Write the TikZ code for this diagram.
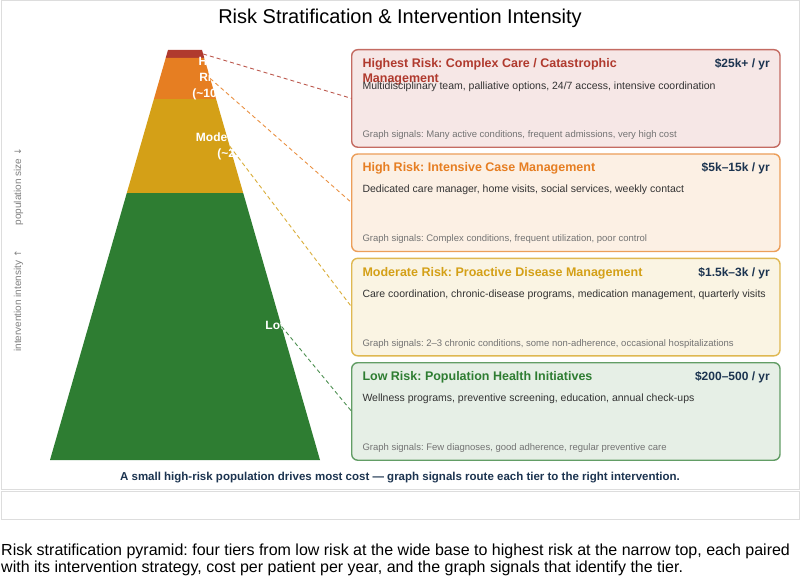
\documentclass[tikz,border=0pt]{standalone}
\usepackage{fontspec}
\setmainfont{Liberation Sans}
\newfontfamily\djv{DejaVu Sans}
\usetikzlibrary{calc}
\definecolor{tred}{HTML}{B03A2E}
\definecolor{torange}{HTML}{E67E22}
\definecolor{tgold}{HTML}{D4A017}
\definecolor{tgreen}{HTML}{2E7D32}
\definecolor{navy}{HTML}{1C3450}
\definecolor{framegray}{HTML}{DDDDDD}
\frenchspacing
\begin{document}
\begin{tikzpicture}[x=1pt,y=-1pt,
  card/.style={draw=#1!75!white, fill=#1!12!white, line width=1.4pt, rounded corners=6pt,
    minimum width=428.3pt, minimum height=97.5pt, inner sep=0pt, outer sep=0pt},
  conn/.style={draw=#1!85!white, dash pattern=on 4pt off 3pt, line width=0.9pt},
  cardtitle/.style={anchor=base west, inner sep=0pt, text=#1, font=\fontsize{12.5}{15}\selectfont\bfseries},
  price/.style={anchor=base east, inner sep=0pt, text=navy, font=\fontsize{12}{14}\selectfont\bfseries},
  desc/.style={anchor=base west, inner sep=0pt, text=black!80, font=\fontsize{10.5}{13}\selectfont},
  signal/.style={anchor=base west, inner sep=0pt, text=black!55, font=\fontsize{9.5}{11}\selectfont},
  plabel/.style={text=white, font=\fontsize{12}{16}\selectfont\bfseries, align=center, inner sep=0pt},
  bottomtext/.style={anchor=base west, inner sep=0pt, font=\fontsize{16}{17}\selectfont},
]
\fill[white] (0,0) rectangle (800,578);
\useasboundingbox (0,0) rectangle (800,578);

% panels
\draw[framegray, line width=1pt] (1,1) rectangle (799,489);
\draw[framegray, line width=1pt] (1,491) rectangle (799,519);

% title
\node[font=\fontsize{20}{22}\selectfont] (title) at (400,18) {Risk Stratification \& Intervention Intensity};

% pyramid bands
\fill[tred]    (168,50) -- (202,50) -- (204.3,58) -- (165.7,58) -- cycle;
\fill[torange] (165.7,58) -- (204.3,58) -- (216.1,99) -- (153.9,99) -- cycle;
\fill[tgold]   (153.9,99) -- (216.1,99) -- (243.2,193) -- (126.8,193) -- cycle;
\fill[tgreen]  (126.8,193) -- (243.2,193) -- (320,460) -- (50,460) -- cycle;

% pyramid labels (white, only visible inside the pyramid)
\begin{scope}
  \clip (168,50) -- (202,50) -- (320,460) -- (50,460) -- cycle;
  \node[plabel] (lhigh) at (212,78.5) {High\\Risk\\(\textasciitilde10\%)};
  \node[plabel] (lmod) at (237,146) {Moderate Risk\\(\textasciitilde20\%)};
  \node[plabel] (llow) at (313,326.5) {Low Risk (\textasciitilde70\%)};
\end{scope}

% axis label
\node[rotate=90, text=black!50, font=\fontsize{10}{12}\selectfont] (axis) at (18.5,250)
  {intervention intensity {\djv\fontsize{9}{12}\selectfont ↑}\hspace{25pt}population size {\djv\fontsize{9}{12}\selectfont ↓}};

% connector anchors on the pyramid edge
\coordinate (p1) at (203.2,54);
\coordinate (p2) at (210.2,78.5);
\coordinate (p3) at (229.6,146);
\coordinate (p4) at (281.6,326.5);

% cards
\node[card=tred]    (b1) at (565.85,98.45) {};
\node[card=torange] (b2) at (565.85,202.75) {};
\node[card=tgold]   (b3) at (565.85,307.05) {};
\node[card=tgreen]  (b4) at (565.85,411.45) {};

% connectors
\draw[conn=tred]    (p1) -- (b1.west);
\draw[conn=torange] (p2) -- (b2.west);
\draw[conn=tgold]   (p3) -- (b3.west);
\draw[conn=tgreen]  (p4) -- (b4.west);

% card 1
\node[cardtitle=tred] (t1a) at (362.3,67.4) {Highest Risk: Complex Care / Catastrophic};
\node[cardtitle=tred] (t1b) at (362.3,82.5) {Management};
\node[price] (c1) at (770,67.4) {\$25k+ / yr};
\node[desc] (d1) at (362.3,89.5) {Multidisciplinary team, palliative options, 24/7 access, intensive coordination};
\node[signal] (s1) at (362.3,137.5) {Graph signals: Many active conditions, frequent admissions, very high cost};

% card 2
\node[cardtitle=torange] (t2) at (362.3,171.7) {High Risk: Intensive Case Management};
\node[price] (c2) at (770,171.7) {\$5k–15k / yr};
\node[desc] (d2) at (362.3,192.8) {Dedicated care manager, home visits, social services, weekly contact};
\node[signal] (s2) at (362.3,241.8) {Graph signals: Complex conditions, frequent utilization, poor control};

% card 3
\node[cardtitle=tgold] (t3) at (362.3,276) {Moderate Risk: Proactive Disease Management};
\node[price] (c3) at (770,276) {\$1.5k–3k / yr};
\node[desc] (d3) at (362.3,297.1) {Care coordination, chronic-disease programs, medication management, quarterly visits};
\node[signal] (s3) at (362.3,346.1) {Graph signals: 2–3 chronic conditions, some non-adherence, occasional hospitalizations};

% card 4
\node[cardtitle=tgreen] (t4) at (362.3,380.4) {Low Risk: Population Health Initiatives};
\node[price] (c4) at (770,380.4) {\$200–500 / yr};
\node[desc] (d4) at (362.3,401.5) {Wellness programs, preventive screening, education, annual check-ups};
\node[signal] (s4) at (362.3,450.5) {Graph signals: Few diagnoses, good adherence, regular preventive care};

% caption
\node[font=\fontsize{11.5}{13}\selectfont\bfseries, text=navy] (cap) at (400,477.7)
  {A small high-risk population drives most cost — graph signals route each tier to the right intervention.};

% description under the figure
\node[bottomtext] (bt1) at (1,555.5) {Risk stratification pyramid: four tiers from low risk at the wide base to highest risk at the narrow top, each paired};
\node[bottomtext] (bt2) at (1,572.5) {with its intervention strategy, cost per patient per year, and the graph signals that identify the tier.};
\end{tikzpicture}
\end{document}
